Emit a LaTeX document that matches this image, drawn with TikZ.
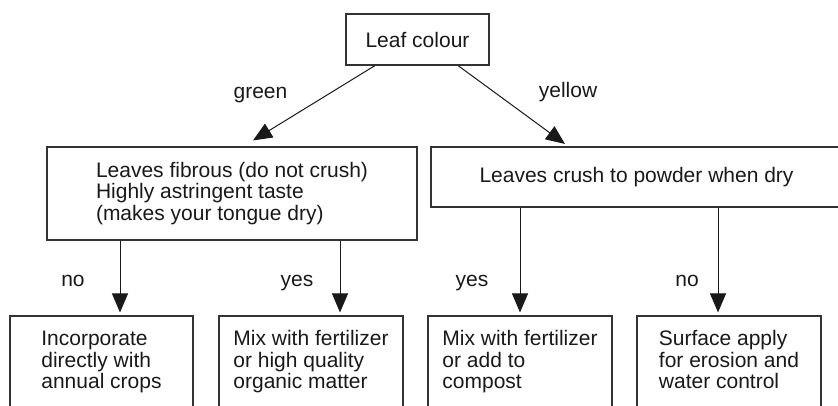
\documentclass[tikz,border=0pt]{standalone}
\usepackage{fontspec}
\setmainfont{Liberation Sans}
\usetikzlibrary{arrows.meta,calc}
\begin{document}
\begin{tikzpicture}[x=1pt,y=-1pt,
  every node/.style={font=\fontsize{21}{21.5}\selectfont, text=black!90},
  box/.style={draw=black!80, line width=1.1pt, inner sep=0pt, align=left},
  arr/.style={draw=black!90, line width=1pt, -{Triangle[length=19pt,width=16pt]}},
  lbl/.style={anchor=base, inner sep=0pt}]
\useasboundingbox (0,0) rectangle (838,406);
\clip (0,0) rectangle (838,406);
% boxes
\node[box, minimum width=143pt, minimum height=51pt] (top) at (417.5,39.5) {Leaf colour};
\node[box, minimum width=370pt, minimum height=93pt] (left) at (232,193.5)
  {Leaves fibrous (do not crush)\\Highly astringent taste\\(makes your tongue dry)};
\node[box, minimum width=411pt, minimum height=60pt] (right) at (636.5,177)
  {Leaves crush to powder when dry};
\node[box, minimum width=183pt, minimum height=92pt] (b1) at (101.5,362)
  {Incorporate\\directly with\\annual crops};
\node[box, minimum width=184pt, minimum height=92pt] (b2) at (311,362)
  {Mix with fertilizer\\or high quality\\organic matter};
\node[box, minimum width=184pt, minimum height=92pt] (b3) at (520,362)
  {Mix with fertilizer\\or add to\\compost};
\node[box, minimum width=184pt, minimum height=92pt] (b4) at (729,362)
  {Surface apply\\for erosion and\\water control\vphantom{p}};
% diagonal arrows
\draw[arr] ([xshift=-42.5pt]top.south) -- ([xshift=21pt,yshift=6pt]left.north);
\draw[arr] ([xshift=40.5pt]top.south) -- ([xshift=-71.5pt,yshift=2.5pt]right.north);
% vertical arrows
\draw[arr, shorten >=3pt] ([xshift=-112pt]left.south) -- ([xshift=-112pt]left.south |- b1.north);
\draw[arr, shorten >=3pt] ([xshift=108pt]left.south) -- ([xshift=108pt]left.south |- b2.north);
\draw[arr, shorten >=3pt] ([xshift=-116.5pt]right.south) -- ([xshift=-116.5pt]right.south |- b3.north);
\draw[arr, shorten >=3pt] ([xshift=81.5pt]right.south) -- ([xshift=81.5pt]right.south |- b4.north);
% labels
\node[lbl] (lgreen) at (260.5,99) {green};
\node[lbl] (lyellow) at (568,98) {yellow};
\node[lbl] (lno1) at (73,287) {no};
\node[lbl] (lyes1) at (297,287) {yes};
\node[lbl] (lyes2) at (472,287) {yes};
\node[lbl] (lno2) at (687,287) {no};
\end{tikzpicture}
\end{document}
